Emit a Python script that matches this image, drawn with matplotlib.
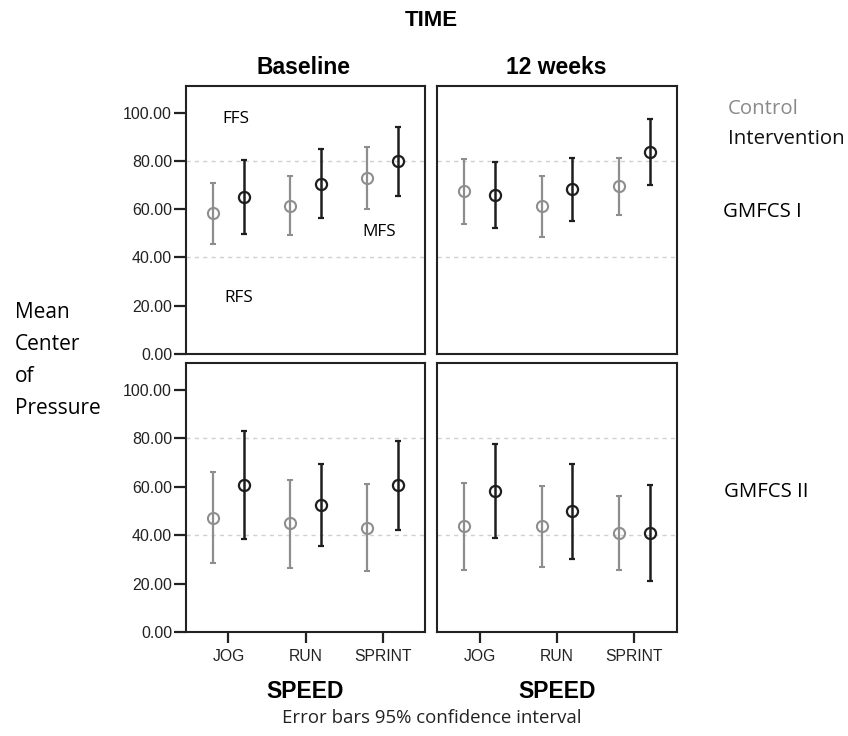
import matplotlib
matplotlib.use('Agg')
import matplotlib.pyplot as plt
from matplotlib.ticker import FormatStrFormatter

# 数据：均值和95%置信区间
speeds = ['JOG', 'RUN', 'SPRINT']

# GMFCS I, Baseline
ctrl_b1 = [58.3, 61.3, 73.0]
ctrl_b1_lo = [45.4, 49.4, 60.2]
ctrl_b1_hi = [70.9, 73.6, 85.8]
int_b1 = [65.0, 70.5, 79.8]
int_b1_lo = [49.7, 56.4, 65.3]
int_b1_hi = [80.5, 84.8, 94.0]

# GMFCS I, 12 weeks
ctrl_w1 = [67.4, 61.2, 69.4]
ctrl_w1_lo = [54.0, 48.6, 57.4]
ctrl_w1_hi = [80.6, 73.7, 81.3]
int_w1 = [65.7, 68.2, 83.6]
int_w1_lo = [52.2, 55.2, 70.0]
int_w1_hi = [79.4, 81.0, 97.3]

# GMFCS II, Baseline
ctrl_b2 = [47.2, 44.9, 42.9]
ctrl_b2_lo = [28.4, 26.6, 25.1]
ctrl_b2_hi = [66.0, 62.7, 61.1]
int_b2 = [60.5, 52.2, 60.5]
int_b2_lo = [38.4, 35.3, 42.1]
int_b2_hi = [82.8, 69.4, 78.8]

# GMFCS II, 12 weeks
ctrl_w2 = [43.6, 43.6, 40.9]
ctrl_w2_lo = [25.7, 26.8, 25.7]
ctrl_w2_hi = [61.4, 60.2, 56.3]
int_w2 = [58.1, 49.8, 40.9]
int_w2_lo = [38.8, 30.1, 21.2]
int_w2_hi = [77.6, 69.3, 60.6]

yticks = [0, 20, 40, 60, 80, 100]
ref_lines = [40, 80]

CTRL_C = '#8e8e8e'
INT_C = '#1e1e1e'
SANS = ['Liberation Sans', 'DejaVu Sans']
UI = ['Open Sans', 'DejaVu Sans']

fig = plt.figure(figsize=(8.48, 7.36), dpi=100)
W, H = 848, 736


def ax_at(x0, y0, x1, y1):
    return fig.add_axes([x0 / W, 1 - y1 / H, (x1 - x0) / W, (y1 - y0) / H])


axes = {
    (0, 0): ax_at(186, 86, 425, 354),
    (0, 1): ax_at(437, 86, 677, 354),
    (1, 0): ax_at(186, 363, 425, 632),
    (1, 1): ax_at(437, 363, 677, 632),
}

panels = {
    (0, 0): (ctrl_b1, ctrl_b1_lo, ctrl_b1_hi, int_b1, int_b1_lo, int_b1_hi),
    (0, 1): (ctrl_w1, ctrl_w1_lo, ctrl_w1_hi, int_w1, int_w1_lo, int_w1_hi),
    (1, 0): (ctrl_b2, ctrl_b2_lo, ctrl_b2_hi, int_b2, int_b2_lo, int_b2_hi),
    (1, 1): (ctrl_w2, ctrl_w2_lo, ctrl_w2_hi, int_w2, int_w2_lo, int_w2_hi),
}

xs = list(range(len(speeds)))
off = 0.2

for (r, c), ax in axes.items():
    cm, clo, chi, im, ilo, ihi = panels[(r, c)]
    for y in ref_lines:
        ax.axhline(y, color='#d0d0d0', lw=1.0, ls=(0, (3, 3)), zorder=1)
    # control
    ax.errorbar([x - off for x in xs], cm,
                yerr=[[m - l for m, l in zip(cm, clo)], [h - m for m, h in zip(cm, chi)]],
                fmt='o', mfc='none', mec=CTRL_C, ms=8, mew=1.5,
                ecolor=CTRL_C, elinewidth=1.6, capsize=2.5, capthick=1.8, zorder=3)
    # intervention
    ax.errorbar([x + off for x in xs], im,
                yerr=[[m - l for m, l in zip(im, ilo)], [h - m for m, h in zip(im, ihi)]],
                fmt='o', mfc='none', mec=INT_C, ms=8, mew=1.6,
                ecolor=INT_C, elinewidth=1.8, capsize=2.5, capthick=2.0, zorder=3)
    ax.set_xlim(-0.55, 2.55)
    ax.set_ylim(0, 111)
    for s in ax.spines.values():
        s.set_linewidth(1.5)
        s.set_color('#222222')
    if c == 0:
        ax.set_yticks(yticks)
        ax.yaxis.set_major_formatter(FormatStrFormatter('%.2f'))
        ax.tick_params(axis='y', length=9, width=1.6, labelsize=11.5, pad=1, colors='#222222')
        for t in ax.get_yticklabels():
            t.set_family(SANS)
    else:
        ax.set_yticks([])
    if r == 1:
        ax.set_xticks(xs)
        ax.set_xticklabels(speeds, family=SANS, fontsize=11.3, color='#333333')
        ax.tick_params(axis='x', length=8, width=1.6, pad=4, colors='#222222')
        ax.set_xlabel('SPEED', family=SANS, fontsize=16.5, fontweight='bold', labelpad=12)
    else:
        ax.set_xticks([])

# FFS / MFS / RFS 标注
a = axes[(0, 0)]
a.text(0.1, 97.3, 'FFS', family=UI, fontsize=12.3, ha='center', va='center')
a.text(1.95, 50.6, 'MFS', family=UI, fontsize=12.3, ha='center', va='center')
a.text(0.13, 23.3, 'RFS', family=UI, fontsize=12.3, ha='center', va='center')

# 标题
fig.text(431.7 / W, 1 - 21 / H, 'TIME', family=SANS, fontsize=16, fontweight='bold', ha='center', va='center')
fig.text(303 / W, 1 - 67 / H, 'Baseline', family=SANS, fontsize=16.5, fontweight='bold', ha='center', va='center')
fig.text(556 / W, 1 - 67 / H, '12 weeks', family=SANS, fontsize=16.5, fontweight='bold', ha='center', va='center')

# 图例
fig.text(728 / W, 1 - 109 / H, 'Control', family=UI, fontsize=14.7, color='#8a8a8a', ha='left', va='center')
fig.text(728 / W, 1 - 139 / H, 'Intervention', family=UI, fontsize=14.7, color='#111111', ha='left', va='center')
fig.text(723 / W, 1 - 212 / H, 'GMFCS I', family=UI, fontsize=14.7, ha='left', va='center')
fig.text(724 / W, 1 - 492 / H, 'GMFCS II', family=UI, fontsize=14.7, ha='left', va='center')

# y轴标签
for i, w in enumerate(['Mean', 'Center', 'of', 'Pressure']):
    fig.text(15 / W, 1 - (312 + i * 32) / H, w, family=UI, fontsize=15, ha='left', va='center')

fig.text(431.7 / W, 1 - 718 / H, 'Error bars 95% confidence interval', family=UI, fontsize=13.4,
         ha='center', va='center', color='#222222')

fig.savefig('out.png', dpi=100)
